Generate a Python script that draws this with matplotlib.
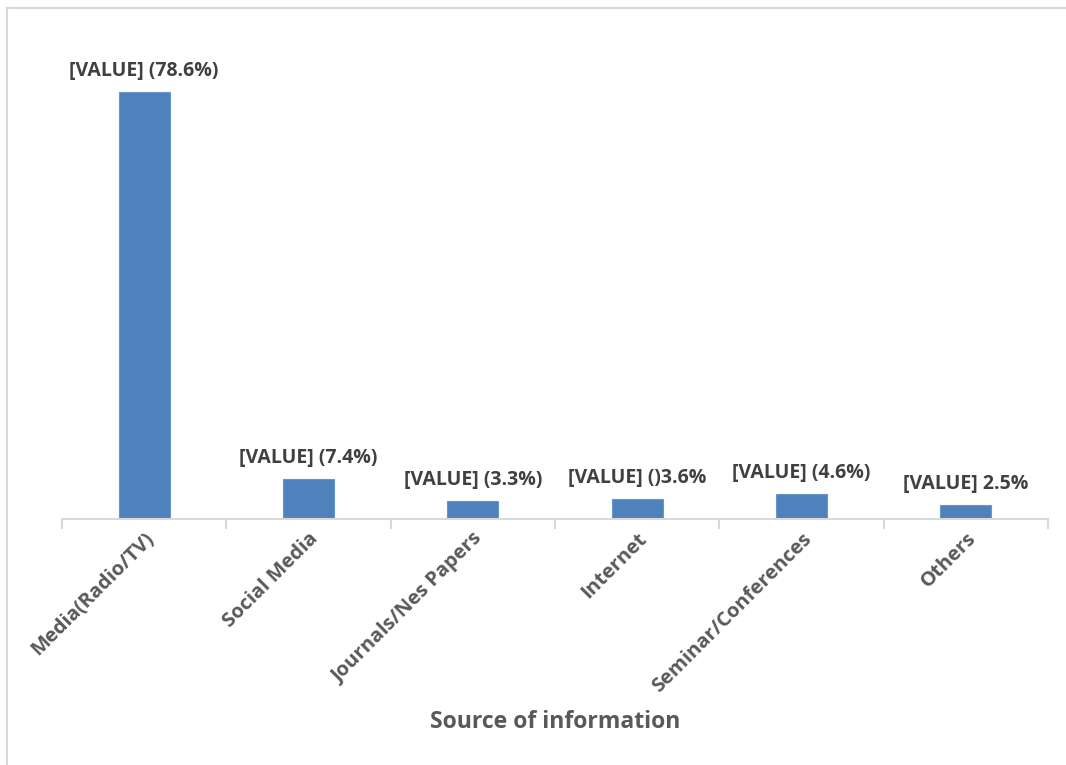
import matplotlib
matplotlib.use("Agg")
import matplotlib.pyplot as plt
from matplotlib.lines import Line2D

categories = ["Media(Radio/TV)", "Social Media", "Journals/Nes Papers",
              "Internet", "Seminar/Conferences", "Others"]
values = [78.6, 7.4, 3.3, 3.6, 4.6, 2.5]
bar_labels = ["[VALUE] (78.6%)", "[VALUE] (7.4%)", "[VALUE] (3.3%)",
              "[VALUE] ()3.6%", "[VALUE] (4.6%)", "[VALUE] 2.5%"]
xlabel = "Source of information"

plt.rcParams['font.family'] = ['Open Sans', 'DejaVu Sans']
gray = "#595959"
W, H = 1066, 765
fig = plt.figure(figsize=(W/100, H/100), dpi=100)
ax = fig.add_axes([62/W, 1-519/H, (1048-62)/W, (519-30)/H])

x = list(range(len(categories)))
ax.bar(x, values, width=0.31, color="#4F81BD", edgecolor="#6A95CA", linewidth=0.8, zorder=2)
for xi, v, lab in zip(x, values, bar_labels):
    ax.annotate(lab, (xi, v), xytext=(0, 8), textcoords="offset points",
                ha="center", va="bottom", fontsize=14, fontweight="bold", color="#404040")

ax.set_xlim(-0.5, len(categories) - 0.5)
ax.set_ylim(0, 90)
ax.set_yticks([])
for s in ["top", "right", "left"]:
    ax.spines[s].set_visible(False)
ax.spines["bottom"].set_color("#D9D9D9")
ax.spines["bottom"].set_linewidth(1.5)

ax.set_xticks(x)
ax.set_xticklabels(categories, rotation=45, ha="right", rotation_mode="anchor",
                   fontsize=14.5, fontweight="bold", color=gray)
ax.tick_params(axis="x", length=0, pad=7)
ax.set_xticks([i - 0.5 for i in range(len(categories) + 1)], minor=True)
ax.tick_params(axis="x", which="minor", length=7, width=1.5, color="#D9D9D9")

fig.text(555/W, 1-722/H, xlabel, ha="center", va="center",
         fontsize=16.6, fontweight="bold", color=gray)

fig.add_artist(Line2D([6.5/W, 6.5/W], [0, 1-7.5/H], transform=fig.transFigure,
                      color="#D9D9D9", linewidth=1.5))
fig.add_artist(Line2D([6.5/W, 1], [1-7.5/H, 1-7.5/H], transform=fig.transFigure,
                      color="#D9D9D9", linewidth=1.5))

fig.savefig("out.png", dpi=100, facecolor="white")
